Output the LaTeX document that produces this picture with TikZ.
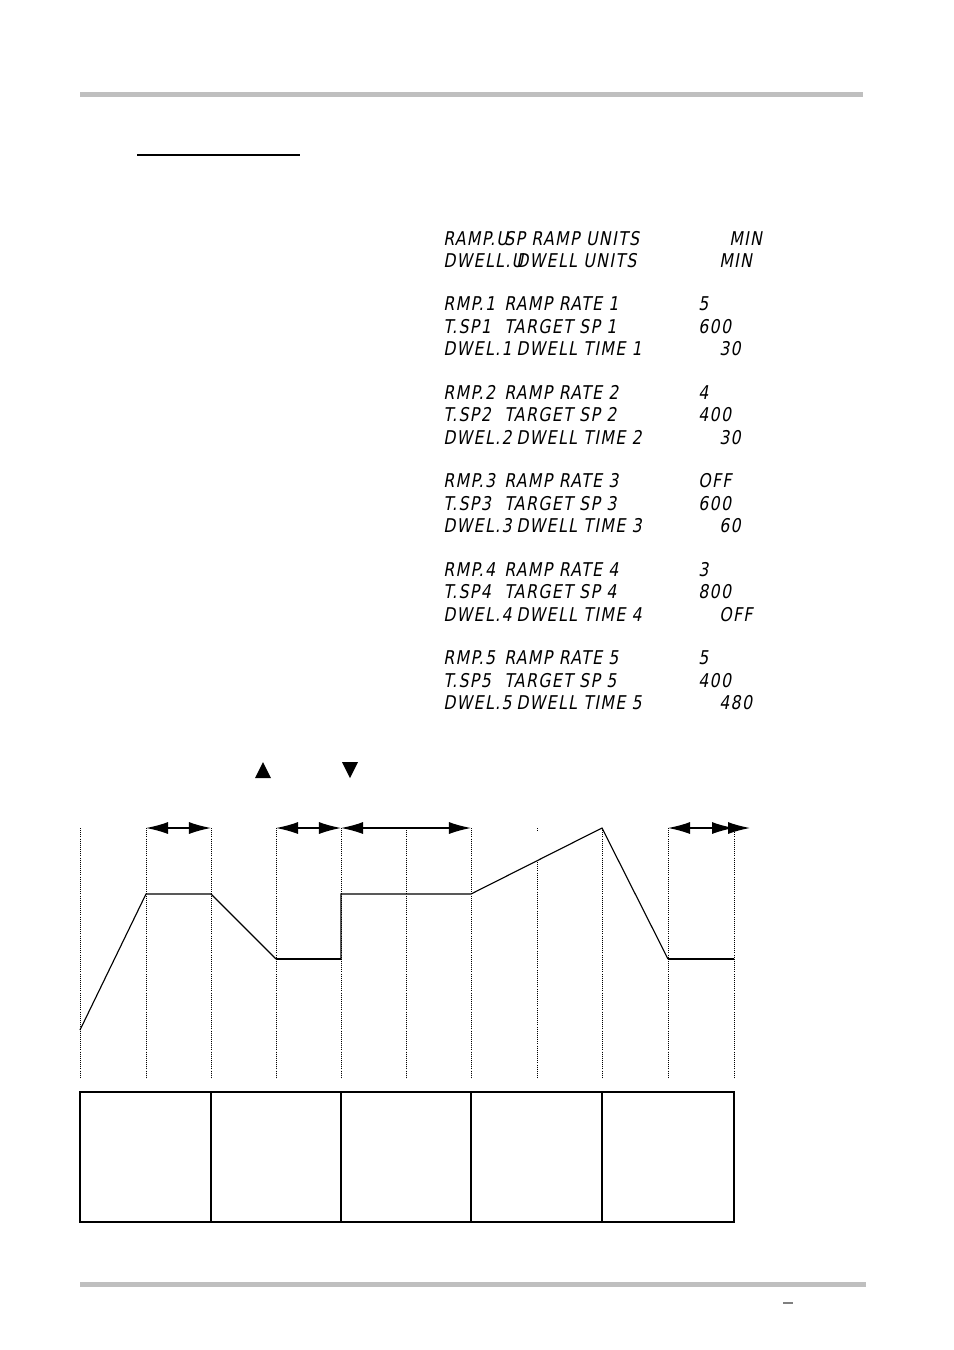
\documentclass[tikz,border=0pt]{standalone}
\usepackage{fontspec}
\usetikzlibrary{arrows.meta}
\newfontfamily\lcdfont{DejaVu Sans Condensed}[FakeSlant=0.2,LetterSpace=8]
\tikzset{
  lcd/.style={anchor=base west, inner sep=0pt, xscale=0.92, font=\lcdfont\fontsize{13.5}{14}\selectfont},
  grid line/.style={densely dotted, line width=0.5pt},
  span arrow/.style={{Latex[length=5.5mm,width=3mm]}-{Latex[length=5.5mm,width=3mm]}, line width=0.9pt},
  profile/.style={line width=0.8pt}
}
\begin{document}
\begin{tikzpicture}[x=0.025cm,y=-0.025cm]
\useasboundingbox (0,0) rectangle (954,1350);
% page bars
\fill[gray!50] (80,92) rectangle (863,97);
\fill[gray!50] (80,1282) rectangle (866,1287);
\draw[line width=1.2pt] (137,155) -- (300,155);
\draw[gray, line width=1pt] (783,1303) -- (793,1303);

% parameter list
\foreach \y/\m/\d/\dx/\v/\vx in {
  245/RAMP.U/SP RAMP UNITS/504/MIN/729,
  267/DWELL.U/DWELL UNITS/516/MIN/719,
  310/RMP.1/RAMP RATE  1/504/5/698,
  333/T.SP1/TARGET SP  1/504/600/698,
  355/DWEL.1/DWELL TIME  1/516/30/719,
  399/RMP.2/RAMP RATE  2/504/4/698,
  421/T.SP2/TARGET SP  2/504/400/698,
  444/DWEL.2/DWELL TIME 2/516/30/719,
  487/RMP.3/RAMP RATE  3/504/OFF/698,
  510/T.SP3/TARGET SP  3/504/600/698,
  532/DWEL.3/DWELL TIME  3/516/60/719,
  576/RMP.4/RAMP RATE  4/504/3/698,
  598/T.SP4/TARGET SP  4/504/800/698,
  621/DWEL.4/DWELL TIME  4/516/OFF/719,
  664/RMP.5/RAMP RATE  5/504/5/698,
  687/T.SP5/TARGET SP  5/504/400/698,
  709/DWEL.5/DWELL TIME  5/516/480/719}{
  \node[lcd] at (443,\y) {\m};
  \node[lcd] at (\dx,\y) {\d};
  \node[lcd] at (\vx,\y) {\v};
}

% keys
\fill (255,778) -- (271,778) -- (263,762) -- cycle;
\fill (342,762) -- (358,762) -- (350,778) -- cycle;

% time grid
\foreach \x in {80,146,211,276,341,406,471,602,668,734}
  \draw[grid line] (\x,828) -- (\x,1078);
\draw[grid line] (537,828) -- (537,832);
\draw[grid line] (537,862) -- (537,1078);

% spans
\draw[span arrow] (146,828) -- (211,828);
\draw[span arrow] (276,828) -- (341,828);
\draw[span arrow] (341,828) -- (471,828);
\draw[span arrow] (668,828) -- (734,828);
\draw[-{Latex[length=5.5mm,width=3mm]}, line width=0.9pt] (734,828) -- (750,828);

% setpoint profile
\draw[profile] (80,1030) -- (146,894) -- (211,894) -- (276,959);
\draw[line width=1.5pt] (276,959) -- (341,959);
\draw[profile] (341,959) -- (341,894) -- (471,894) -- (602,828) -- (668,959);
\draw[line width=1.5pt] (668,959) -- (734,959);

% segment boxes
\draw[line width=0.8pt] (80,1092) rectangle (734,1222);
\foreach \x in {211,471,602}
  \draw[line width=0.8pt] (\x,1092) -- (\x,1222);
\draw[line width=1.4pt] (341,1092) -- (341,1222);
\end{tikzpicture}
\end{document}
